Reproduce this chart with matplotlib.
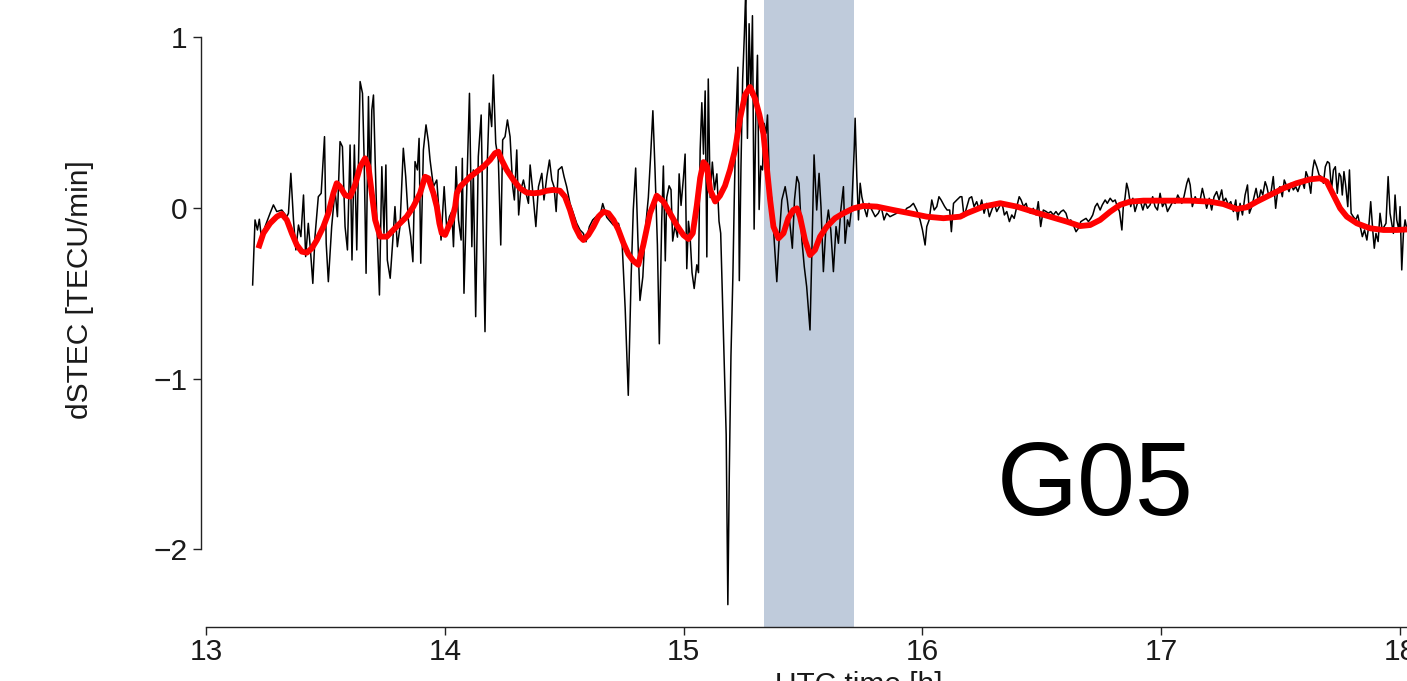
import matplotlib
import matplotlib.pyplot as plt
matplotlib.use('Agg')

plt.rcParams['font.family'] = ['Liberation Sans', 'DejaVu Sans']

# dSTEC series, 30 s samples (UTC hours / TECU per minute)
time_raw = [
    13.195, 13.205, 13.215, 13.223, 13.233, 13.247, 13.268, 13.282, 13.296, 13.317,
    13.338, 13.345, 13.355, 13.366, 13.376, 13.387, 13.397, 13.408, 13.417, 13.428,
    13.436, 13.447, 13.456, 13.470, 13.482, 13.496, 13.503, 13.512, 13.526, 13.540,
    13.550, 13.561, 13.571, 13.582, 13.592, 13.603, 13.611, 13.621, 13.631, 13.645,
    13.655, 13.662, 13.670, 13.680, 13.687, 13.694, 13.701, 13.708, 13.717, 13.726,
    13.736, 13.745, 13.753, 13.759, 13.771, 13.782, 13.791, 13.801, 13.812, 13.826,
    13.836, 13.847, 13.857, 13.866, 13.875, 13.885, 13.892, 13.899, 13.910, 13.921,
    13.931, 13.938, 13.952, 13.966, 13.984, 13.997, 14.008, 14.019, 14.029, 14.036,
    14.047, 14.057, 14.068, 14.073, 14.080, 14.092, 14.103, 14.113, 14.119, 14.129,
    14.140, 14.152, 14.161, 14.168, 14.178, 14.186, 14.196, 14.203, 14.213, 14.224,
    14.234, 14.242, 14.252, 14.262, 14.273, 14.284, 14.291, 14.301, 14.309, 14.318,
    14.329, 14.340, 14.350, 14.357, 14.366, 14.381, 14.392, 14.406, 14.415, 14.427,
    14.438, 14.448, 14.457, 14.466, 14.475, 14.490, 14.499, 14.510, 14.524, 14.538,
    14.552, 14.566, 14.580, 14.591, 14.605, 14.619, 14.633, 14.650, 14.661, 14.678,
    14.706, 14.727, 14.741, 14.755, 14.768, 14.780, 14.789, 14.799, 14.808, 14.817,
    14.829, 14.838, 14.852, 14.862, 14.871, 14.880, 14.890, 14.898, 14.908, 14.915,
    14.923, 14.929, 14.939, 14.947, 14.954, 14.964, 14.974, 14.981, 14.989, 14.999,
    15.006, 15.013, 15.020, 15.027, 15.035, 15.044, 15.055, 15.062, 15.069, 15.076,
    15.083, 15.090, 15.097, 15.103, 15.111, 15.120, 15.129, 15.139, 15.148, 15.155,
    15.166, 15.178, 15.185, 15.191, 15.198, 15.206, 15.212, 15.219, 15.227, 15.233,
    15.240, 15.247, 15.254, 15.260, 15.267, 15.274, 15.281, 15.288, 15.295, 15.302,
    15.309, 15.316, 15.323, 15.330, 15.337, 15.345, 15.351, 15.359, 15.369, 15.379,
    15.390, 15.401, 15.411, 15.425, 15.434, 15.446, 15.455, 15.464, 15.474, 15.483,
    15.495, 15.505, 15.515, 15.529, 15.538, 15.546, 15.557, 15.567, 15.575, 15.585,
    15.595, 15.606, 15.616, 15.627, 15.638, 15.648, 15.658, 15.669, 15.676, 15.686,
    15.694, 15.704, 15.714, 15.718, 15.725, 15.732, 15.739, 15.746, 15.755, 15.767,
    15.776, 15.788, 15.802, 15.815, 15.827, 15.839, 15.850, 15.864, 15.878, 15.892,
    15.906, 15.920, 15.934, 15.948, 15.962, 15.976, 15.990, 16.000, 16.011, 16.018,
    16.028, 16.039, 16.049, 16.060, 16.069, 16.078, 16.093, 16.103, 16.114, 16.121,
    16.130, 16.144, 16.158, 16.165, 16.174, 16.186, 16.196, 16.206, 16.216, 16.227,
    16.238, 16.248, 16.258, 16.269, 16.280, 16.290, 16.301, 16.311, 16.322, 16.332,
    16.343, 16.353, 16.364, 16.374, 16.384, 16.395, 16.405, 16.413, 16.423, 16.434,
    16.443, 16.454, 16.464, 16.476, 16.485, 16.495, 16.506, 16.518, 16.527, 16.537,
    16.548, 16.559, 16.569, 16.580, 16.590, 16.601, 16.611, 16.621, 16.632, 16.643,
    16.653, 16.663, 16.674, 16.685, 16.695, 16.705, 16.713, 16.723, 16.732, 16.744,
    16.753, 16.765, 16.774, 16.786, 16.797, 16.807, 16.816, 16.825, 16.835, 16.841,
    16.848, 16.855, 16.862, 16.872, 16.881, 16.890, 16.900, 16.911, 16.923, 16.932,
    16.942, 16.953, 16.964, 16.974, 16.984, 16.995, 17.005, 17.016, 17.026, 17.037,
    17.048, 17.058, 17.069, 17.079, 17.086, 17.095, 17.107, 17.114, 17.121, 17.130,
    17.142, 17.151, 17.163, 17.172, 17.180, 17.190, 17.201, 17.211, 17.221, 17.232,
    17.242, 17.253, 17.260, 17.270, 17.281, 17.291, 17.302, 17.312, 17.320, 17.330,
    17.340, 17.351, 17.361, 17.369, 17.379, 17.389, 17.397, 17.407, 17.417, 17.425,
    17.435, 17.442, 17.451, 17.460, 17.469, 17.479, 17.488, 17.497, 17.507, 17.515,
    17.526, 17.535, 17.544, 17.553, 17.563, 17.572, 17.581, 17.591, 17.599, 17.606,
    17.616, 17.626, 17.634, 17.641, 17.651, 17.661, 17.669, 17.679, 17.687, 17.696,
    17.704, 17.713, 17.721, 17.729, 17.737, 17.745, 17.752, 17.758, 17.765, 17.772,
    17.781, 17.788, 17.795, 17.804, 17.814, 17.823, 17.832, 17.842, 17.851, 17.861,
    17.870, 17.877, 17.886, 17.892, 17.899, 17.908, 17.916, 17.925, 17.933, 17.941,
    17.950, 17.958, 17.965, 17.972, 17.979, 17.986, 17.995, 18.000, 18.007, 18.014,
    18.021, 18.029, 18.040,
]
dstec_raw = [
    -0.451, -0.070, -0.129, -0.066, -0.188, -0.109, -0.031, 0.018, -0.021, -0.012,
    -0.051, -0.031, 0.203, -0.070, -0.246, -0.100, -0.168, 0.076, -0.285, -0.090,
    -0.227, -0.442, -0.168, 0.066, 0.086, 0.418, -0.207, -0.432, -0.109, 0.106,
    -0.051, 0.389, 0.359, -0.109, -0.246, 0.369, -0.305, 0.369, -0.246, 0.741,
    0.672, 0.281, -0.383, 0.653, 0.086, 0.574, 0.662, 0.281, -0.168, -0.510,
    0.242, -0.148, 0.252, -0.305, -0.412, -0.188, 0.008, -0.227, -0.109, 0.350,
    0.184, -0.070, -0.168, -0.315, 0.272, 0.223, 0.408, -0.324, 0.340, 0.487,
    0.389, 0.281, 0.125, 0.164, -0.188, 0.125, -0.129, -0.051, -0.021, -0.227,
    0.242, -0.070, -0.188, 0.291, -0.500, 0.125, 0.672, -0.227, 0.223, -0.637,
    0.301, 0.545, -0.207, -0.725, 0.281, 0.614, 0.477, 0.780, 0.379, 0.281,
    -0.217, 0.399, 0.418, 0.516, 0.418, 0.125, 0.047, 0.340, -0.041, 0.106,
    0.164, 0.086, 0.027, 0.252, 0.125, -0.109, 0.125, 0.203, 0.047, 0.184,
    0.281, 0.164, 0.125, -0.021, 0.223, 0.242, 0.184, 0.125, 0.027, -0.031,
    -0.090, -0.129, -0.149, -0.198, -0.109, -0.070, -0.051, -0.043, 0.026, -0.055,
    -0.101, -0.090, -0.171, -0.588, -1.098, -0.403, -0.009, 0.234, -0.171, -0.542,
    -0.403, -0.148, 0.061, 0.316, 0.570, 0.223, -0.217, -0.796, -0.078, 0.246,
    -0.310, 0.061, 0.130, 0.107, -0.194, -0.101, -0.171, 0.200, 0.015, 0.177,
    0.316, -0.356, -0.078, -0.171, -0.379, -0.472, -0.333, -0.379, 0.339, 0.617,
    0.316, 0.686, -0.287, 0.756, 0.061, 0.269, 0.107, 0.200, -0.078, -0.148,
    -0.704, -1.329, -2.325, -1.561, -0.866, -0.403, 0.061, 0.524, 0.825, -0.426,
    0.246, 0.756, 1.011, 1.280, 0.408, 1.080, 0.663, 1.127, -0.124, 0.524,
    0.895, -0.009, 0.246, 0.223, 0.496, 0.438, 0.545, 0.145, 0.047, -0.188,
    -0.432, -0.149, 0.047, 0.125, 0.047, -0.109, -0.236, 0.047, 0.184, 0.145,
    -0.188, -0.344, -0.461, -0.715, -0.188, 0.311, -0.012, 0.203, 0.008, -0.373,
    -0.129, -0.012, -0.129, -0.373, -0.109, -0.207, -0.012, 0.125, -0.207, -0.070,
    -0.109, 0.008, 0.340, 0.526, 0.184, -0.070, 0.145, 0.066, 0.008, -0.051,
    0.027, -0.012, -0.051, -0.031, 0.008, -0.070, -0.031, -0.051, -0.041, -0.031,
    -0.012, -0.031, -0.002, 0.008, 0.027, -0.012, -0.070, -0.129, -0.217, -0.109,
    -0.070, 0.047, -0.012, 0.008, 0.066, 0.047, 0.008, -0.012, -0.012, -0.139,
    0.027, 0.047, 0.066, 0.066, -0.051, 0.008, 0.057, 0.066, 0.008, 0.037,
    -0.012, 0.047, -0.031, 0.027, -0.051, -0.012, 0.027, -0.021, 0.008, 0.037,
    -0.041, -0.021, -0.080, -0.041, -0.061, 0.008, 0.066, 0.047, 0.008, 0.027,
    -0.021, -0.031, -0.002, -0.041, 0.037, -0.109, -0.012, -0.021, -0.031, -0.021,
    -0.041, -0.021, -0.041, -0.021, -0.012, -0.031, -0.080, -0.070, -0.100, -0.139,
    -0.119, -0.080, -0.070, -0.061, -0.080, -0.061, -0.041, 0.008, 0.027, -0.012,
    0.018, 0.047, 0.027, 0.057, 0.037, 0.047, 0.008, -0.021, -0.129, 0.008,
    0.057, 0.145, 0.106, 0.008, 0.057, -0.021, 0.027, 0.047, -0.012, 0.037,
    -0.002, 0.018, 0.066, 0.008, -0.012, 0.086, 0.008, 0.037, -0.021, 0.008,
    0.037, 0.027, 0.076, 0.047, 0.027, 0.066, 0.145, 0.174, 0.135, 0.008,
    0.066, 0.037, 0.047, 0.115, 0.066, -0.002, 0.057, -0.012, 0.066, 0.096,
    0.047, 0.106, 0.037, 0.057, 0.018, 0.037, -0.021, 0.047, -0.070, 0.027,
    -0.041, 0.076, 0.135, -0.031, 0.008, 0.066, 0.115, 0.037, 0.106, 0.076,
    0.154, 0.125, 0.066, 0.096, 0.184, -0.002, 0.106, 0.125, 0.066, 0.164,
    0.125, 0.096, 0.145, 0.106, 0.125, 0.096, 0.135, 0.154, 0.115, 0.213,
    0.174, 0.086, 0.223, 0.281, 0.242, 0.193, 0.184, 0.145, 0.242, 0.272,
    0.262, 0.106, 0.223, 0.242, 0.086, 0.203, 0.184, 0.076, 0.213, 0.135,
    0.008, 0.223, -0.031, -0.051, -0.070, -0.041, -0.100, -0.168, -0.129, -0.188,
    -0.090, 0.037, -0.139, -0.236, -0.149, -0.197, -0.031, -0.129, -0.109, -0.090,
    0.184, -0.031, -0.090, -0.149, 0.076, -0.070, -0.129, 0.008, -0.363, -0.149,
    -0.070, -0.129, -0.100,
]

# low-pass filtered dSTEC
time_fit = [
    13.219, 13.240, 13.268, 13.296, 13.317, 13.338, 13.359, 13.380, 13.401, 13.422,
    13.443, 13.464, 13.491, 13.512, 13.533, 13.547, 13.561, 13.582, 13.603, 13.624,
    13.645, 13.666, 13.680, 13.694, 13.708, 13.729, 13.757, 13.784, 13.812, 13.840,
    13.868, 13.896, 13.917, 13.931, 13.952, 13.966, 13.977, 13.987, 14.001, 14.015,
    14.029, 14.043, 14.050, 14.064, 14.085, 14.106, 14.134, 14.161, 14.189, 14.210,
    14.224, 14.238, 14.259, 14.287, 14.315, 14.343, 14.371, 14.399, 14.427, 14.454,
    14.482, 14.503, 14.524, 14.545, 14.566, 14.580, 14.601, 14.622, 14.643, 14.664,
    14.685, 14.706, 14.727, 14.748, 14.768, 14.789, 14.810, 14.831, 14.859, 14.887,
    14.915, 14.943, 14.971, 14.999, 15.020, 15.038, 15.055, 15.069, 15.083, 15.097,
    15.111, 15.132, 15.152, 15.173, 15.194, 15.215, 15.236, 15.257, 15.278, 15.299,
    15.317, 15.334, 15.348, 15.362, 15.376, 15.397, 15.418, 15.438, 15.459, 15.474,
    15.487, 15.508, 15.529, 15.550, 15.571, 15.599, 15.634, 15.669, 15.711, 15.753,
    15.809, 15.878, 15.948, 16.018, 16.088, 16.158, 16.186, 16.255, 16.325, 16.395,
    16.464, 16.534, 16.604, 16.660, 16.702, 16.744, 16.786, 16.827, 16.869, 16.925,
    16.981, 17.037, 17.121, 17.204, 17.260, 17.316, 17.358, 17.400, 17.456, 17.511,
    17.566, 17.623, 17.665, 17.693, 17.721, 17.749, 17.777, 17.819, 17.874, 17.930,
    17.987, 18.040,
]
dstec_fit = [
    -0.236, -0.148, -0.090, -0.051, -0.035, -0.070, -0.148, -0.217, -0.256, -0.262,
    -0.236, -0.188, -0.110, -0.031, 0.086, 0.145, 0.125, 0.076, 0.066, 0.135,
    0.242, 0.291, 0.242, 0.086, -0.070, -0.168, -0.168, -0.129, -0.090, -0.051,
    0.008, 0.086, 0.183, 0.174, 0.086, 0.008, -0.090, -0.148, -0.158, -0.110,
    -0.070, 0.008, 0.086, 0.125, 0.154, 0.183, 0.213, 0.242, 0.281, 0.321,
    0.330, 0.281, 0.223, 0.164, 0.115, 0.090, 0.086, 0.090, 0.101, 0.106,
    0.101, 0.066, -0.012, -0.110, -0.168, -0.188, -0.158, -0.110, -0.051, -0.022,
    -0.031, -0.070, -0.129, -0.207, -0.270, -0.310, -0.333, -0.217, -0.032, 0.072,
    0.038, -0.032, -0.101, -0.159, -0.182, -0.148, 0.015, 0.176, 0.269, 0.246,
    0.107, 0.038, 0.072, 0.130, 0.223, 0.339, 0.524, 0.663, 0.709, 0.640,
    0.547, 0.434, 0.242, 0.047, -0.110, -0.178, -0.148, -0.060, -0.012, -0.002,
    -0.051, -0.188, -0.276, -0.246, -0.168, -0.110, -0.060, -0.031, -0.002, 0.012,
    0.008, -0.012, -0.031, -0.051, -0.060, -0.051, -0.031, 0.008, 0.028, 0.008,
    -0.022, -0.051, -0.080, -0.106, -0.100, -0.070, -0.022, 0.018, 0.037, 0.043,
    0.043, 0.043, 0.043, 0.037, 0.023, -0.006, 0.004, 0.037, 0.076, 0.115,
    0.145, 0.168, 0.174, 0.154, 0.076, -0.002, -0.051, -0.090, -0.119, -0.129,
    -0.129, -0.125,
]

# window shaded on the panel
band_start = 15.337
band_end = 15.714

y_ticks = [-2, -1, 0, 1]
x_ticks = [13, 14, 15, 16, 17, 18]
satellite = "G05"

fig = plt.figure(figsize=(14.07, 6.81), dpi=100)
ax = fig.add_axes([0.1429, 0.0793, 0.8571, 0.9207])

ax.axvspan(band_start, band_end, color='#bfcbdb', lw=0, zorder=0)
ax.plot(time_raw, dstec_raw, color='black', lw=1.1, zorder=2)
ax.plot(time_fit, dstec_fit, color='#ff0000', lw=4.2, zorder=3,
        solid_capstyle='butt', solid_joinstyle='round')

ax.set_xlim(12.979, 18.029)
ax.set_ylim(-2.456, 1.219)

ax.spines['top'].set_visible(False)
ax.spines['right'].set_visible(False)
ax.spines['left'].set_bounds(-2, 1)
ax.spines['bottom'].set_bounds(13, 18.029)
for side in ['left', 'bottom']:
    ax.spines[side].set_linewidth(1.0)
    ax.spines[side].set_color('#222222')

ax.set_yticks(y_ticks)
ax.set_xticks(x_ticks)
ax.tick_params(axis='both', direction='out', length=6, width=1.0,
               color='#222222', labelsize=21.5, labelcolor='#1a1a1a')
ax.tick_params(axis='y', pad=4)
ax.tick_params(axis='x', pad=2)

ax.text(16.31, -1.80, satellite, fontsize=75, va='baseline', ha='left')

fig.text(80 / 1407, 1 - 290 / 681, 'dSTEC [TECU/min]', rotation=90,
         ha='center', va='center', fontsize=21.5, color='#1a1a1a')
# axis title sits below the panel edge and is partly cut off by the frame
fig.text(859 / 1407, (681 - 671) / 681, 'UTC time [h]',
         ha='center', va='top', fontsize=21.5, color='#1a1a1a')

fig.savefig('out.png', dpi=100)
